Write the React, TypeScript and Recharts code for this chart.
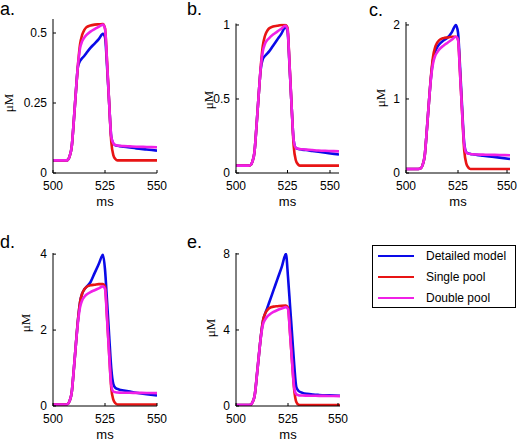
import React from 'react';
import { LineChart, Line, XAxis, YAxis, Label } from 'recharts';

const times = [500, 506, 507, 508, 509, 510, 511, 512, 513, 514, 515, 516, 518, 520, 522, 524, 525, 526, 527, 528, 529, 530, 531, 532, 534, 537, 540, 545, 550];
const xTicks = [500, 525, 550];

// Panel a
const aDetailed = [0.045, 0.045, 0.046, 0.06, 0.094, 0.186, 0.29, 0.38, 0.40, 0.41, 0.418, 0.428, 0.447, 0.462, 0.478, 0.497, 0.485, 0.38, 0.25, 0.13, 0.105, 0.099, 0.097, 0.096, 0.094, 0.091, 0.088, 0.084, 0.08];
const aSingle = [0.045, 0.045, 0.046, 0.06, 0.094, 0.186, 0.29, 0.386, 0.459, 0.493, 0.51, 0.52, 0.527, 0.53, 0.531, 0.532, 0.517, 0.396, 0.25, 0.113, 0.064, 0.05, 0.045, 0.045, 0.045, 0.045, 0.045, 0.045, 0.045];
const aDouble = [0.045, 0.045, 0.046, 0.06, 0.094, 0.186, 0.29, 0.385, 0.445, 0.47, 0.483, 0.492, 0.505, 0.514, 0.522, 0.53, 0.515, 0.395, 0.25, 0.13, 0.106, 0.1, 0.098, 0.097, 0.096, 0.095, 0.094, 0.093, 0.092];
const aTicks = [0, 0.25, 0.5];

// Panel b
const bDetailed = [0.05, 0.05, 0.053, 0.079, 0.145, 0.326, 0.525, 0.70, 0.77, 0.79, 0.805, 0.82, 0.86, 0.9, 0.94, 0.985, 0.96, 0.72, 0.45, 0.22, 0.17, 0.163, 0.16, 0.158, 0.155, 0.149, 0.143, 0.134, 0.125];
const bSingle = [0.05, 0.05, 0.053, 0.079, 0.145, 0.326, 0.525, 0.715, 0.858, 0.924, 0.957, 0.976, 0.99, 0.995, 1.0, 1.0, 0.981, 0.734, 0.449, 0.183, 0.088, 0.06, 0.05, 0.05, 0.05, 0.05, 0.05, 0.05, 0.05];
const bDouble = [0.05, 0.05, 0.053, 0.079, 0.145, 0.326, 0.525, 0.71, 0.82, 0.87, 0.895, 0.91, 0.935, 0.955, 0.975, 0.995, 0.97, 0.73, 0.45, 0.22, 0.17, 0.165, 0.162, 0.16, 0.158, 0.155, 0.152, 0.149, 0.146];
const bTicks = [0, 0.5, 1];

// Panel c
const cDetailed = [0.055, 0.055, 0.06, 0.11, 0.234, 0.573, 0.948, 1.29, 1.53, 1.64, 1.7, 1.74, 1.79, 1.83, 1.9, 2.0, 1.9, 1.42, 0.87, 0.4, 0.28, 0.265, 0.258, 0.253, 0.245, 0.235, 0.225, 0.208, 0.19];
const cSingle = [0.055, 0.055, 0.06, 0.11, 0.234, 0.573, 0.948, 1.305, 1.572, 1.697, 1.76, 1.795, 1.822, 1.831, 1.84, 1.84, 1.805, 1.34, 0.805, 0.305, 0.126, 0.073, 0.055, 0.055, 0.055, 0.055, 0.055, 0.055, 0.055];
const cDouble = [0.055, 0.055, 0.06, 0.11, 0.234, 0.573, 0.948, 1.28, 1.48, 1.58, 1.63, 1.67, 1.72, 1.76, 1.8, 1.84, 1.8, 1.34, 0.81, 0.38, 0.275, 0.262, 0.256, 0.253, 0.25, 0.248, 0.246, 0.243, 0.24];
const cTicks = [0, 1, 2];

// Panel d
const dDetailed = [0.04, 0.04, 0.05, 0.135, 0.357, 0.959, 1.625, 2.259, 2.735, 2.956, 3.067, 3.131, 3.26, 3.5, 3.74, 3.98, 3.6, 2.75, 1.85, 1.0, 0.58, 0.48, 0.45, 0.43, 0.41, 0.38, 0.35, 0.31, 0.28];
const dSingle = [0.04, 0.04, 0.05, 0.135, 0.357, 0.959, 1.625, 2.259, 2.735, 2.956, 3.067, 3.131, 3.178, 3.194, 3.21, 3.21, 3.15, 2.32, 1.37, 0.48, 0.167, 0.072, 0.04, 0.04, 0.04, 0.04, 0.04, 0.04, 0.04];
const dDouble = [0.04, 0.04, 0.05, 0.135, 0.357, 0.959, 1.625, 2.2, 2.6, 2.78, 2.87, 2.93, 3.0, 3.05, 3.1, 3.15, 3.08, 2.28, 1.36, 0.55, 0.38, 0.36, 0.355, 0.352, 0.35, 0.348, 0.346, 0.343, 0.34];
const dTicks = [0, 2, 4];

// Panel e
const eDetailed = [0.05, 0.05, 0.066, 0.21, 0.57, 1.57, 2.67, 3.71, 4.5, 4.86, 5.15, 5.46, 6.08, 6.7, 7.32, 8.0, 6.8, 5.25, 3.7, 2.15, 1.0, 0.8, 0.73, 0.69, 0.64, 0.6, 0.58, 0.56, 0.54];
const eSingle = [0.05, 0.05, 0.066, 0.21, 0.57, 1.57, 2.67, 3.71, 4.5, 4.86, 5.04, 5.15, 5.23, 5.25, 5.27, 5.28, 5.18, 3.82, 2.25, 0.83, 0.21, 0.076, 0.05, 0.05, 0.05, 0.05, 0.05, 0.05, 0.05];
const eDouble = [0.05, 0.05, 0.066, 0.21, 0.57, 1.57, 2.67, 3.65, 4.3, 4.55, 4.7, 4.8, 4.95, 5.05, 5.13, 5.2, 5.1, 3.78, 2.25, 0.95, 0.62, 0.57, 0.555, 0.55, 0.545, 0.54, 0.535, 0.53, 0.52];
const eTicks = [0, 4, 8];

const seriesNames = ['Detailed model', 'Single pool', 'Double pool'];
const seriesKeys = ['detailed', 'single', 'double'];
const seriesColors = ['#0a0ae8', '#e81414', '#f020e6'];

const SANS = '"Liberation Sans", Arial, Helvetica, sans-serif';
const SERIF = '"Liberation Serif", "Times New Roman", serif';

const YTick = (props: any) => {
  const { x, y, payload } = props;
  return (
    <g>
      <line x1={x} x2={x + 3} y1={y} y2={y} stroke="#000" strokeWidth={1} />
      <text x={x - 6} y={y} dy="0.35em" textAnchor="end" fontSize={12} fontFamily={SANS} fill="#000">
        {payload.value}
      </text>
    </g>
  );
};

const XTick = (props: any) => {
  const { x, y, payload } = props;
  return (
    <g>
      <line x1={x} x2={x} y1={y} y2={y - 3} stroke="#000" strokeWidth={1} />
      <text x={x} y={y + 17} textAnchor="middle" fontSize={12} fontFamily={SANS} fill="#000">
        {payload.value}
      </text>
    </g>
  );
};

type PanelProps = {
  chartLeft: number; chartTop: number; chartW: number; chartH: number;
  plotLeft: number; plotRight: number; plotTop: number; plotBottom: number;
  yMax: number; yTicks: number[];
  detailed: number[]; single: number[]; double: number[];
  yLabelX: number; yLabelY: number;
};

function Panel(p: PanelProps) {
  const rows = times.map((t, i) => ({ t, detailed: p.detailed[i], single: p.single[i], double: p.double[i] }));
  return (
    <div style={{ position: 'absolute', left: p.chartLeft, top: p.chartTop }}>
      <LineChart
        width={p.chartW}
        height={p.chartH}
        data={rows}
        margin={{ top: p.plotTop - p.chartTop, right: p.chartLeft + p.chartW - p.plotRight, bottom: 0, left: 0 }}
      >
        <XAxis
          dataKey="t"
          type="number"
          domain={[500, 550]}
          ticks={xTicks}
          allowDataOverflow
          height={p.chartTop + p.chartH - p.plotBottom}
          tickSize={0}
          tickMargin={0}
          tickLine={false}
          axisLine={{ stroke: '#000', strokeWidth: 1 }}
          tick={<XTick />}
        >
          <Label
            content={() => (
              <text
                x={(p.plotLeft + p.plotRight) / 2 - p.chartLeft}
                y={p.plotBottom + 33 - p.chartTop}
                textAnchor="middle"
                fontSize={13}
                fontFamily={SANS}
                fill="#000"
              >
                ms
              </text>
            )}
          />
        </XAxis>
        <YAxis
          type="number"
          domain={[0, p.yMax]}
          ticks={p.yTicks}
          allowDataOverflow
          width={p.plotLeft - p.chartLeft}
          tickSize={0}
          tickMargin={0}
          tickLine={false}
          axisLine={{ stroke: '#000', strokeWidth: 1 }}
          tick={<YTick />}
        >
          <Label
            content={() => (
              <text
                transform={`translate(${p.yLabelX - p.chartLeft},${p.yLabelY - p.chartTop}) rotate(-90)`}
                textAnchor="middle"
                dominantBaseline="central"
                fontSize={13}
                fontFamily={SERIF}
                fill="#000"
              >
                μM
              </text>
            )}
          />
        </YAxis>
        {seriesKeys.map((k, i) => (
          <Line
            key={k}
            dataKey={k}
            name={seriesNames[i]}
            type="monotone"
            stroke={seriesColors[i]}
            strokeWidth={2.6}
            dot={false}
            activeDot={false}
            isAnimationActive={false}
          />
        ))}
      </LineChart>
    </div>
  );
}

const letters = [
  { t: 'a.', x: 0, y: 15 },
  { t: 'b.', x: 187, y: 15 },
  { t: 'c.', x: 369, y: 16 },
  { t: 'd.', x: 0, y: 248 },
  { t: 'e.', x: 187, y: 248 },
];

export default function App() {
  return (
    <div style={{ position: 'absolute', left: 0, top: 0, width: 519, height: 443, background: '#fff', overflow: 'hidden' }}>
      <svg width={519} height={443} style={{ position: 'absolute', left: 0, top: 0 }}>
        {letters.map((l) => (
          <text key={l.t} x={l.x} y={l.y} fontSize={18} fontFamily={SANS} fill="#000">{l.t}</text>
        ))}
      </svg>
      <Panel chartLeft={0} chartTop={0} chartW={170} chartH={215} plotLeft={53} plotRight={157} plotTop={19} plotBottom={173}
        yMax={0.55} yTicks={aTicks} detailed={aDetailed} single={aSingle} double={aDouble} yLabelX={8} yLabelY={103} />
      <Panel chartLeft={170} chartTop={0} chartW={172} chartH={215} plotLeft={236} plotRight={339} plotTop={23.5} plotBottom={173}
        yMax={1.01} yTicks={bTicks} detailed={bDetailed} single={bSingle} double={bDouble} yLabelX={208} yLabelY={100} />
      <Panel chartLeft={342} chartTop={0} chartW={177} chartH={215} plotLeft={406} plotRight={510} plotTop={22} plotBottom={173}
        yMax={2.04} yTicks={cTicks} detailed={cDetailed} single={cSingle} double={cDouble} yLabelX={380} yLabelY={98} />
      <Panel chartLeft={0} chartTop={228} chartW={170} chartH={215} plotLeft={53} plotRight={157} plotTop={253} plotBottom={406}
        yMax={4.03} yTicks={dTicks} detailed={dDetailed} single={dSingle} double={dDouble} yLabelX={25} yLabelY={323} />
      <Panel chartLeft={170} chartTop={228} chartW={180} chartH={215} plotLeft={236} plotRight={340} plotTop={253} plotBottom={406}
        yMax={8.05} yTicks={eTicks} detailed={eDetailed} single={eSingle} double={eDouble} yLabelX={210} yLabelY={328} />
      <div style={{ position: 'absolute', left: 372, top: 245, width: 144, height: 63, border: '1px solid #000', boxSizing: 'border-box', background: '#fff' }}>
        <svg width={142} height={61} style={{ position: 'absolute', left: 0, top: 0 }}>
          {seriesNames.map((n, i) => {
            const cy = 10 + i * 21;
            return (
              <g key={n}>
                <line x1={5} x2={41} y1={cy} y2={cy} stroke={seriesColors[i]} strokeWidth={2} />
                <text x={53} y={cy} dy="0.35em" fontSize={12} fontFamily={SANS} fill="#000">{n}</text>
              </g>
            );
          })}
        </svg>
      </div>
    </div>
  );
}
